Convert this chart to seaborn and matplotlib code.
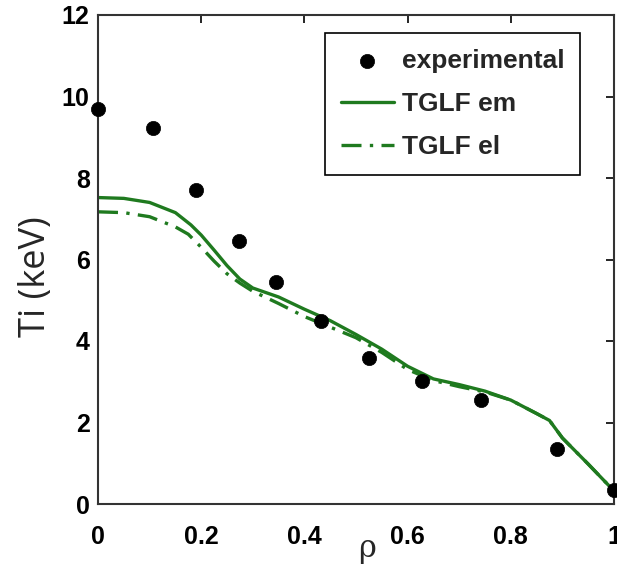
import matplotlib
matplotlib.use("Agg")
import matplotlib.pyplot as plt
import seaborn as sns
import pandas as pd
import numpy as np

# Experimental points
rho_exp = [0.0, 0.107, 0.189, 0.273, 0.344, 0.433, 0.525, 0.627, 0.742, 0.890, 1.0]
ti_exp = [9.69, 9.22, 7.71, 6.45, 5.46, 4.48, 3.59, 3.01, 2.54, 1.36, 0.34]

# TGLF em (solid)
rho_em = [0.0, 0.05, 0.1, 0.15, 0.18, 0.2, 0.225, 0.25, 0.275, 0.3, 0.35, 0.4, 0.45,
          0.5, 0.55, 0.6, 0.65, 0.7, 0.75, 0.8, 0.85, 0.875, 0.9, 0.95, 1.0]
ti_em = [7.52, 7.50, 7.40, 7.15, 6.85, 6.60, 6.23, 5.85, 5.52, 5.30, 5.08, 4.78, 4.50,
         4.16, 3.80, 3.38, 3.07, 2.93, 2.77, 2.55, 2.22, 2.05, 1.62, 0.98, 0.32]

# TGLF el (dash-dot)
rho_el = [0.0, 0.05, 0.1, 0.15, 0.175, 0.2, 0.225, 0.25, 0.275, 0.3, 0.35, 0.4, 0.45,
          0.5, 0.55, 0.6, 0.65, 0.7, 0.75, 0.8, 0.85, 0.875, 0.9, 0.95, 1.0]
ti_el = [7.17, 7.15, 7.05, 6.80, 6.62, 6.30, 5.96, 5.65, 5.42, 5.22, 4.92, 4.60, 4.34,
         4.08, 3.72, 3.30, 3.03, 2.88, 2.75, 2.55, 2.22, 2.05, 1.62, 0.98, 0.32]

xticks = [0, 0.2, 0.4, 0.6, 0.8, 1.0]
xtick_labels = ["0", "0.2", "0.4", "0.6", "0.8", "1"]
yticks = [0, 2, 4, 6, 8, 10, 12]
ytick_labels = ["0", "2", "4", "6", "8", "10", "12"]

green = "#1f7a1f"

sns.set_style("white")
plt.rcParams['font.family'] = ['Liberation Sans', 'DejaVu Sans']

fig = plt.figure(figsize=(6.17, 5.68), dpi=100)
ax = fig.add_axes([98/617, 1 - 504/568, 516/617, 489/568])

df_exp = pd.DataFrame({"rho": rho_exp, "Ti": ti_exp})
df_em = pd.DataFrame({"rho": rho_em, "Ti": ti_em})
df_el = pd.DataFrame({"rho": rho_el, "Ti": ti_el})

sns.lineplot(data=df_el, x="rho", y="Ti", ax=ax, color=green, lw=2.4,
             linestyle=(0, (6, 2.5, 1, 2.5)), label="TGLF el", sort=False)
sns.lineplot(data=df_em, x="rho", y="Ti", ax=ax, color=green, lw=2.4,
             label="TGLF em", sort=False)
sns.scatterplot(data=df_exp, x="rho", y="Ti", ax=ax, color="black", s=105,
                edgecolor="black", linewidth=0.5, label="experimental", zorder=5,
                clip_on=False)

ax.set_xlim(0, 1)
ax.set_ylim(0, 12)
ax.set_xticks(xticks)
ax.set_xticklabels(xtick_labels, fontweight="bold", fontsize=18)
ax.set_yticks(yticks)
ax.set_yticklabels(ytick_labels, fontweight="bold", fontsize=18)
ax.tick_params(direction="in", length=6, width=1.2, top=True, right=True,
               colors="black")
ax.tick_params(axis="x", pad=15)
ax.tick_params(axis="y", pad=6)

for s in ax.spines.values():
    s.set_visible(True)
    s.set_color("#333333")
    s.set_linewidth(1.5)

ax.set_xlabel("ρ", family="DejaVu Serif", fontsize=22, va="baseline")
ax.xaxis.set_label_coords(0.521, -0.108)
ax.set_ylabel("Ti (keV)", family="Open Sans", fontsize=26)
ax.yaxis.set_label_coords(-0.085, 0.464)

handles, labels = ax.get_legend_handles_labels()
order = [labels.index("experimental"), labels.index("TGLF em"), labels.index("TGLF el")]
leg = ax.legend([handles[i] for i in order], [labels[i] for i in order],
                loc="upper right", bbox_to_anchor=(482/516, 1 - 18/489),
                prop={"weight": "bold", "size": 19}, frameon=True, fancybox=False,
                edgecolor="black", framealpha=1, handlelength=2.0, handletextpad=0.3,
                borderpad=0.6, labelspacing=0.72, borderaxespad=0)
leg.get_frame().set_linewidth(1.2)

fig.savefig("out.png", dpi=100)
